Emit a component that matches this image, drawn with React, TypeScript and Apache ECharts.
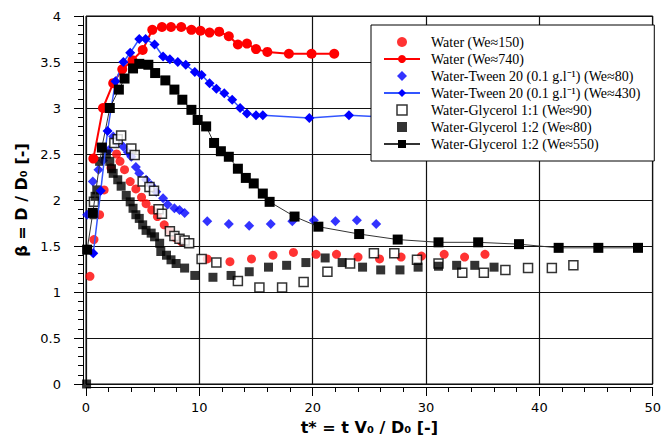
import React, { useEffect, useRef } from "react";
import * as echarts from "echarts";

// t* values and beta values per series
const water150: number[][] = [[0.35,1.17],[0.7,1.57],[1.2,1.84],[1.6,2.11],[2.2,2.35],[2.7,2.5],[3.0,2.42],[3.4,2.33],[3.9,2.2],[4.4,2.12],[4.9,2.03],[5.3,1.96],[5.8,1.89],[6.3,1.82],[6.9,1.73],[7.4,1.66],[7.9,1.59],[8.4,1.55],[10.7,1.36],[12.7,1.33],[14.6,1.36],[16.5,1.40],[18.3,1.43],[20.3,1.41],[22.1,1.41],[24.0,1.38],[25.9,1.36],[27.8,1.38],[29.6,1.39],[31.6,1.41],[33.4,1.38],[35.2,1.41]];
const water740: number[][] = [[0.65,2.45],[1.5,3.0],[2.4,3.27],[3.2,3.42],[4.1,3.52],[5.0,3.63],[5.85,3.85],[6.7,3.88],[7.5,3.88],[8.4,3.88],[9.3,3.85],[10.1,3.84],[10.9,3.82],[11.75,3.83],[12.6,3.78],[13.4,3.69],[14.2,3.70],[15.0,3.64],[16.0,3.61],[17.9,3.59],[19.9,3.59],[21.9,3.59]];
const tween80: number[][] = [[0.1,1.84],[0.6,2.2],[1.1,2.33],[1.5,2.43],[2.0,2.54],[2.4,2.69],[2.7,2.63],[3.3,2.58],[3.7,2.52],[4.0,2.47],[4.4,2.36],[4.7,2.29],[5.3,2.22],[5.75,2.16],[6.2,2.09],[6.8,2.02],[7.2,1.95],[7.8,1.91],[8.25,1.89],[8.7,1.86],[10.7,1.77],[12.6,1.74],[14.4,1.72],[16.3,1.74],[18.2,1.77],[20.1,1.78],[22.0,1.77],[23.9,1.78],[25.6,1.74]];
const tween430: number[][] = [[0.64,1.42],[1.3,2.1],[1.9,2.75],[2.6,3.29],[3.3,3.5],[3.9,3.6],[4.7,3.75],[5.26,3.75],[6.05,3.69],[6.8,3.56],[7.4,3.53],[8.1,3.5],[8.8,3.47],[9.6,3.39],[10.2,3.36],[10.9,3.27],[11.5,3.21],[12.2,3.16],[12.9,3.09],[13.6,3.0],[14.2,2.94],[15.0,2.92],[15.6,2.92],[19.7,2.89],[23.2,2.92],[28.0,2.89]];
const glycerol11: number[][] = [[0.7,1.98],[2.5,2.62],[2.8,2.66],[3.1,2.7],[4.0,2.56],[4.3,2.49],[5.0,2.2],[5.6,2.14],[6.0,2.1],[6.4,1.9],[6.7,1.85],[7.4,1.66],[7.8,1.61],[8.25,1.58],[8.7,1.56],[9.1,1.53],[10.2,1.36],[11.5,1.32],[13.4,1.12],[15.3,1.05],[17.3,1.05],[19.2,1.11],[21.3,1.22],[23.3,1.31],[25.4,1.42],[27.2,1.42],[29.2,1.35],[31.1,1.31],[33.2,1.21],[35.1,1.21],[37.0,1.24],[39.0,1.26],[41.1,1.26],[43.0,1.29]];
const glycerol12a: number[][] = [[0.05,0.0],[0.7,1.84],[0.8,2.04],[0.95,2.11],[1.2,2.42],[1.8,2.5],[2.1,2.42],[2.25,2.34],[2.4,2.29],[2.8,2.22],[3.1,2.15],[3.55,2.05],[3.9,1.98],[4.15,1.91],[4.4,1.84],[4.7,1.8],[5.0,1.73],[5.3,1.67],[5.75,1.64],[6.05,1.6],[6.5,1.53],[6.6,1.44],[7.1,1.4],[7.5,1.35],[7.95,1.31],[8.7,1.26],[9.6,1.18],[11.2,1.16],[12.8,1.18],[14.4,1.22],[16.1,1.27],[17.7,1.29],[19.4,1.32],[21.1,1.37],[22.6,1.32],[24.4,1.27],[26.0,1.24],[27.7,1.24],[29.3,1.27],[31.1,1.28],[32.7,1.29],[34.3,1.29],[36.0,1.27]];
const glycerol12b: number[][] = [[0.1,1.46],[0.6,1.86],[1.4,2.57],[2.1,3.0],[2.9,3.2],[3.4,3.32],[4.15,3.43],[4.7,3.48],[5.5,3.47],[6.1,3.38],[7.0,3.3],[7.8,3.2],[8.5,3.09],[9.3,2.98],[9.85,2.87],[10.6,2.8],[11.3,2.62],[11.9,2.53],[12.6,2.47],[13.4,2.34],[14.1,2.24],[14.8,2.18],[15.6,2.07],[16.2,1.98],[18.4,1.82],[20.5,1.71],[24.1,1.63],[27.5,1.57],[31.1,1.54],[34.6,1.54],[38.2,1.52],[41.7,1.48],[45.2,1.48],[48.7,1.48]];

const names = [
  "Water (We≈150)",
  "Water (We≈740)",
  "Water-Tween 20 (0.1 g.l⁻¹) (We≈80)",
  "Water-Tween 20 (0.1 g.l⁻¹) (We≈430)",
  "Water-Glycerol 1:1 (We≈90)",
  "Water-Glycerol 1:2 (We≈80)",
  "Water-Glycerol 1:2 (We≈550)",
];

const SQUARE = "path://M0,0H10V10H0Z";
const DIAMOND = "path://M5,0L10,5L5,10L0,5Z";

export default function App() {
  const ref = useRef<HTMLDivElement>(null);
  useEffect(() => {
    document.body.style.margin = "0";
    const chart = echarts.init(ref.current!, null, { renderer: "svg" });
    const axisFont = { fontFamily: "DejaVu Sans", fontSize: 13, color: "#000" };
    const nameFont = { fontFamily: "DejaVu Sans", fontSize: 16, fontWeight: "bold", color: "#000" };
    chart.setOption({
      animation: false,
      backgroundColor: "#fff",
      grid: { left: 86, right: 8, top: 16, bottom: 56, show: true, borderColor: "#000", borderWidth: 1, backgroundColor: "transparent" },
      legend: {
        orient: "vertical",
        left: 371,
        top: 25,
        padding: [10, 14, 10, 12],
        backgroundColor: "#fff",
        borderColor: "#000",
        borderWidth: 1,
        itemWidth: 36,
        itemHeight: 10,
        itemGap: 3,
        symbolKeepAspect: true,
        textStyle: { fontFamily: "Liberation Serif", fontSize: 14, color: "#000", padding: [0, 0, 0, 6] },
        data: [
          { name: names[0], icon: "circle" },
          { name: names[1] },
          { name: names[2], icon: DIAMOND },
          { name: names[3] },
          { name: names[4], icon: SQUARE, itemStyle: { color: "#fff", borderColor: "#000", borderWidth: 1.5 } },
          { name: names[5], icon: SQUARE },
          { name: names[6] },
        ],
      },
      xAxis: {
        type: "value", min: 0, max: 50, interval: 10, offset: 3,
        axisLine: { show: true, onZero: false, lineStyle: { color: "#000", width: 1 } },
        axisTick: { show: true, length: 9, lineStyle: { color: "#000" } },
        minorTick: { show: true, splitNumber: 5, length: 5, lineStyle: { color: "#000" } },
        splitLine: { show: true, lineStyle: { color: "#111", width: 1.2 } },
        axisLabel: { ...axisFont, margin: 14 },
        name: "t* = t V₀ / D₀ [-]", nameLocation: "middle", nameGap: 32, nameTextStyle: nameFont,
      },
      yAxis: {
        type: "value", min: 0, max: 4, interval: 0.5, offset: 3,
        axisLine: { show: true, onZero: false, lineStyle: { color: "#000", width: 1 } },
        axisTick: { show: true, length: 9, lineStyle: { color: "#000" } },
        minorTick: { show: true, splitNumber: 5, length: 5, lineStyle: { color: "#000" } },
        splitLine: { show: true, lineStyle: { color: "#111", width: 1.2 } },
        axisLabel: { ...axisFont, margin: 22 },
        name: "β = D / D₀ [-]", nameLocation: "middle", nameGap: 46, nameTextStyle: nameFont,
      },
      series: [
        { name: names[0], type: "scatter", data: water150, symbol: "circle", symbolSize: 9, itemStyle: { color: "#ff0000" } },
        { name: names[1], type: "line", data: water740, symbol: "circle", symbolSize: 10, showSymbol: true,
          itemStyle: { color: "#ff0000" }, lineStyle: { color: "#ff0000", width: 2 } },
        { name: names[2], type: "scatter", data: tween80, symbol: "diamond", symbolSize: 10, itemStyle: { color: "#0000ff" } },
        { name: names[3], type: "line", data: tween430, symbol: "diamond", symbolSize: 10, showSymbol: true,
          itemStyle: { color: "#0000ff" }, lineStyle: { color: "#3355ff", width: 1.5 } },
        { name: names[4], type: "scatter", data: glycerol11, symbol: "rect", symbolSize: 9,
          itemStyle: { color: "#fff", borderColor: "#000", borderWidth: 1.5 } },
        { name: names[5], type: "scatter", data: glycerol12a, symbol: "rect", symbolSize: 9, itemStyle: { color: "#000" } },
        { name: names[6], type: "line", data: glycerol12b, symbol: "rect", symbolSize: 10, showSymbol: true,
          itemStyle: { color: "#000" }, lineStyle: { color: "#333", width: 1 } },
      ],
    });
    return () => chart.dispose();
  }, []);
  return <div ref={ref} style={{ width: 664, height: 440 }} />;
}
